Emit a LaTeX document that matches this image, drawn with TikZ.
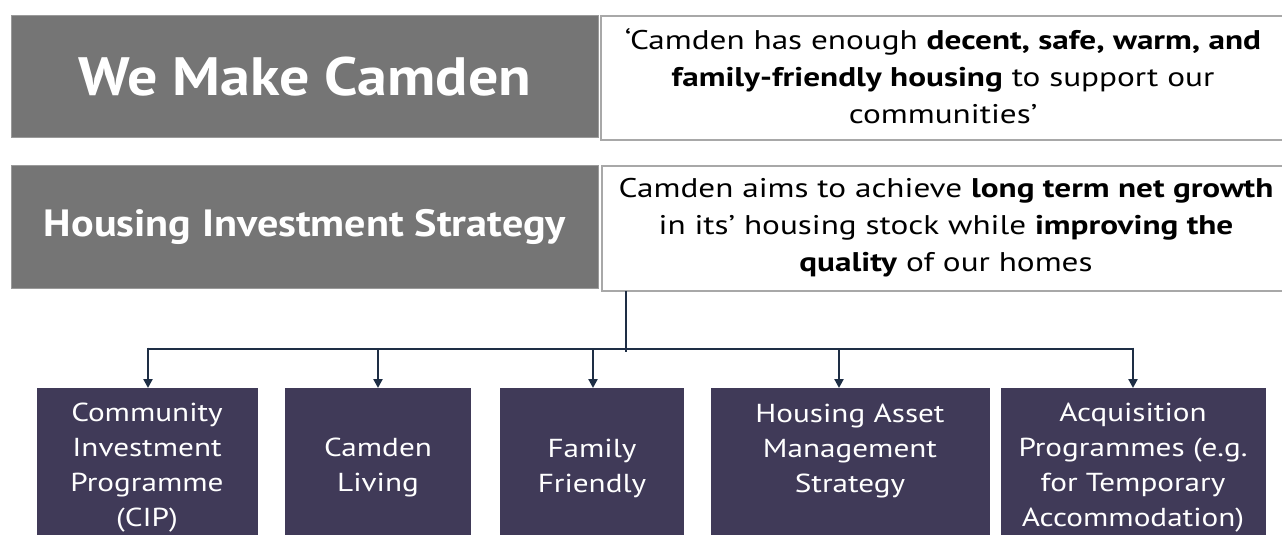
\documentclass[tikz,border=0pt]{standalone}
\usepackage{fontspec}
\setmainfont{PT Sans}[FakeStretch=1.2]
\newfontfamily\hdrfont{PT Sans}[FakeStretch=1.11]
\newfontfamily\quotefont{PT Sans}[FakeStretch=1.23]
\usetikzlibrary{arrows.meta}
\definecolor{hdrgray}{HTML}{757575}
\definecolor{hdredge}{HTML}{9A9A9A}
\definecolor{boxpurple}{HTML}{403A58}
\definecolor{connblue}{HTML}{1E2E45}
\definecolor{whiteedge}{HTML}{A8A8A8}
\begin{document}
\begin{tikzpicture}[x=1pt,y=-1pt,
  hdrbox/.style={draw=hdredge, line width=1pt, fill=hdrgray, text=white, anchor=north west, inner sep=0pt},
  quotebox/.style={draw=whiteedge, line width=2pt, fill=white, anchor=north west, inner sep=0pt},
  quotetext/.style={align=center, font=\quotefont\fontsize{27}{37}\selectfont},
  progbox/.style={fill=boxpurple, anchor=north west, inner sep=0pt},
  progtext/.style={align=center, text=white, font=\fontsize{26}{35}\selectfont},
  conn/.style={draw=connblue, line width=2.6pt},
  arr/.style={conn, -{Triangle[length=9pt,width=9pt]}}
]
\useasboundingbox (0,0) rectangle (1282,535);
\fill[white] (0,0) rectangle (1282,535);
% header rows
\node[hdrbox, minimum width=587pt, minimum height=122pt, font=\hdrfont\fontsize{54}{60}\selectfont\bfseries] (wmc) at (11,15) {We Make Camden};
\node[quotebox, minimum width=686pt, minimum height=124pt] (q1) at (600,15) {};
\node[quotetext] (q1t) at (943,76) {‘Camden has enough \textbf{decent, safe, warm, and}\\\textbf{family-friendly housing} to support our\\communities’};
\node[hdrbox, minimum width=587pt, minimum height=123pt, font=\hdrfont\fontsize{38}{44}\selectfont\bfseries] (his) at (11,165) {Housing Investment Strategy};
\node[quotebox, minimum width=686pt, minimum height=125pt] (q2) at (601,165) {};
\node[quotetext] (q2t) at (946,228) {Camden aims to achieve \textbf{long term net growth}\\in its’ housing stock while \textbf{improving the}\\\textbf{quality} of our homes};
% programme boxes
\node[progbox, minimum width=221pt, minimum height=160pt] (b1) at (37,388) {};
\node[progbox, minimum width=186pt, minimum height=160pt] (b2) at (285,388) {};
\node[progbox, minimum width=184pt, minimum height=160pt] (b3) at (500,388) {};
\node[progbox, minimum width=279pt, minimum height=160pt] (b4) at (711,388) {};
\node[progbox, minimum width=265pt, minimum height=160pt] (b5) at (1001,388) {};
\node[progtext] (t1) at (147,468) {Community\\Investment\\Programme\\(CIP)};
\node[progtext] (t2) at (378,467) {Camden\\Living};
\node[progtext] (t3) at (592,468) {Family\\Friendly};
\node[progtext] (t4) at (850,451) {Housing Asset\\Management\\Strategy};
\node[progtext] (t5) at (1133,468) {Acquisition\\Programmes (e.g.\\for Temporary\\Accommodation)};
% connectors
\coordinate (stemtop) at (626,291);
\coordinate (hub) at (626,352);
\coordinate (j1) at (148,349);
\coordinate (j2) at (378,349);
\coordinate (j3) at (593,349);
\coordinate (j4) at (839,349);
\coordinate (j5) at (1133,349);
\draw[conn] (stemtop) -- (hub);
\draw[conn] (j1) -- (j5);
\draw[arr] ([yshift=1.3pt]j1) -- (j1 |- b1.north);
\draw[arr] (j2) -- (j2 |- b2.north);
\draw[arr] (j3) -- (j3 |- b3.north);
\draw[arr] (j4) -- (j4 |- b4.north);
\draw[arr] ([yshift=1.3pt]j5) -- (j5 |- b5.north);
\end{tikzpicture}
\end{document}
